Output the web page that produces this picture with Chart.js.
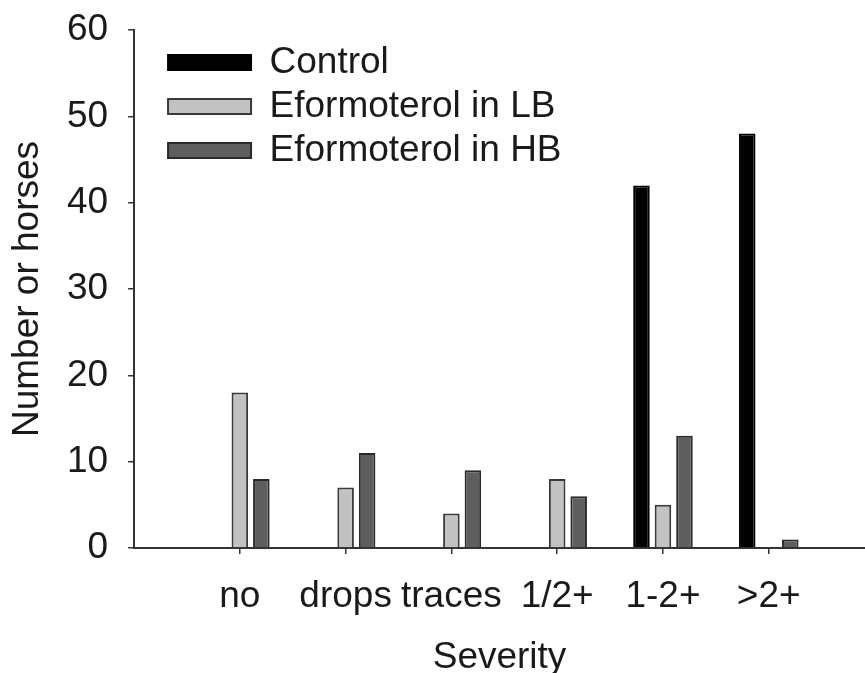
<!DOCTYPE html>
<html>
<head>
<meta charset="utf-8">
<script src="https://cdn.jsdelivr.net/npm/chart.js@4.4.1/dist/chart.umd.min.js"></script>
<style>
  html, body { margin: 0; padding: 0; background: #fff; }
  #wrap { width: 865px; height: 673px; }
</style>
</head>
<body>
<div id="wrap"><canvas id="chart" width="865" height="673"></canvas></div>
<script>
const severity = ["no", "drops", "traces", "1/2+", "1-2+", ">2+"];
const control = [0, 0, 0, 0, 42, 48];
const eformLB = [18, 7, 4, 8, 5, 0];
const eformHB = [8, 11, 9, 6, 13, 1];
const yTicks = [0, 10, 20, 30, 40, 50, 60];

const ink = "#1a1a1a";
const axisColor = "#333";
const font = (size, lineHeight = 1.2) => ({ family: "'Liberation Sans', Arial, sans-serif", size, lineHeight });

// legend sits inside the plot, a bit right of the y axis
const legendSpot = {
  id: "legendSpot",
  afterLayout(chart) {
    const lg = chart.legend;
    const w = lg.width;
    const h = lg.height;
    lg.left = chart.chartArea.left + 27;
    lg.top = chart.chartArea.top + 7;
    lg.right = lg.left + w;
    lg.bottom = lg.top + h;
  },
};

const toPoints = (values) => values.map((y, x) => ({ x, y }));

document.addEventListener("DOMContentLoaded", () => {
  const canvas = document.getElementById("chart");
  new Chart(canvas, {
    type: "bar",
    data: {
      datasets: [
        {
          label: "Control",
          data: toPoints(control),
          backgroundColor: "#000",
          borderColor: "#000",
          borderWidth: 2,
        },
        {
          label: "Eformoterol in LB",
          data: toPoints(eformLB),
          backgroundColor: "#c2c2c2",
          borderColor: "#3a3a3a",
          borderWidth: 2,
        },
        {
          label: "Eformoterol in HB",
          data: toPoints(eformHB),
          backgroundColor: "#5e5e5e",
          borderColor: "#2a2a2a",
          borderWidth: 2,
        },
      ],
    },
    options: {
      responsive: false,
      animation: false,
      devicePixelRatio: 1,
      categoryPercentage: 0.61,
      barPercentage: 0.77,
      layout: { padding: { top: 30, right: 0, bottom: 0, left: 0 } },
      plugins: {
        tooltip: { enabled: false },
        legend: {
          position: "chartArea",
          align: "start",
          labels: {
            boxWidth: 83,
            boxHeight: 15,
            padding: 7,
            color: ink,
            font: font(37, 1),
          },
        },
      },
      scales: {
        x: {
          type: "linear",
          min: -1,
          max: 5.91,
          offset: false,
          afterBuildTicks: (axis) => {
            axis.ticks = severity.map((_, i) => ({ value: i }));
          },
          grid: { offset: false, drawOnChartArea: false, tickLength: 6, color: axisColor, lineWidth: 1.5 },
          border: { color: axisColor, width: 2 },
          ticks: {
            autoSkip: false,
            maxRotation: 0,
            padding: 24.5,
            color: ink,
            font: font(37, 1),
            callback: (value) => severity[value] ?? "",
          },
          title: {
            display: true,
            text: "Severity",
            color: ink,
            font: font(37, 0.81),
            padding: { top: 3, bottom: 0 },
          },
        },
        y: {
          min: 0,
          max: 60,
          afterBuildTicks: (axis) => {
            axis.ticks = yTicks.map((value) => ({ value }));
          },
          grid: { drawOnChartArea: false, tickLength: 6, color: axisColor, lineWidth: 1.5 },
          border: { color: axisColor, width: 2 },
          ticks: {
            padding: 20,
            color: ink,
            font: font(37, 0.5),
          },
          title: {
            display: true,
            text: "Number or horses",
            color: ink,
            font: font(37, 1),
            padding: { top: 9.5, bottom: 0.4 },
          },
        },
      },
    },
    plugins: [legendSpot],
  });
});
</script>
</body>
</html>
